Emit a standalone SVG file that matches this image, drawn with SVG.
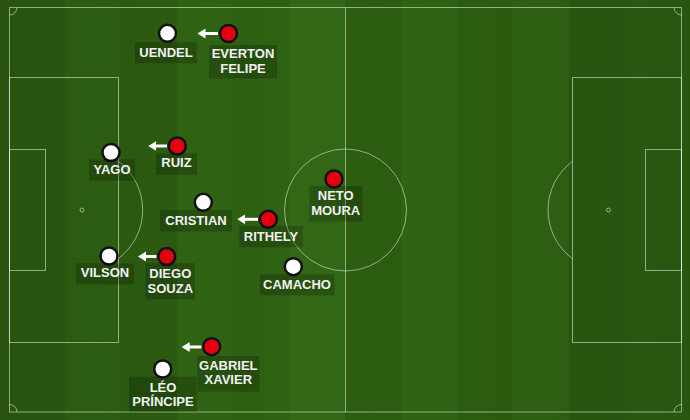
<svg xmlns="http://www.w3.org/2000/svg" width="690" height="420" viewBox="0 0 690 420">
<defs>
<style>
.line{fill:none;stroke:rgba(255,255,255,0.5);stroke-width:1}
.box{fill:rgba(0,0,0,0.2)}
.lbl{font-family:"Liberation Sans",Arial,sans-serif;font-size:13px;font-weight:bold;fill:#f2f2f2;text-anchor:middle}
.pw{fill:#ffffff;stroke:#111;stroke-width:2.5}
.pr{fill:#e4000f;stroke:#111;stroke-width:2.5}
.arr{stroke:#ffffff;stroke-width:3;fill:none}
</style>
<marker id="ah" markerUnits="userSpaceOnUse" markerWidth="10" markerHeight="11" refX="2" refY="5" orient="auto">
<path d="M0,0 L8,5 L0,10 Z" fill="#ffffff"/>
</marker>
<linearGradient id="vig" x1="0" y1="0" x2="1" y2="0">
<stop offset="0" stop-color="#000" stop-opacity="0.10"/>
<stop offset="0.45" stop-color="#000" stop-opacity="0"/>
<stop offset="1" stop-color="#000" stop-opacity="0.10"/>
</linearGradient>
</defs>
<g id="pitch">
<rect x="0" y="0" width="690" height="420" fill="#2e6112"/>
<rect x="0" y="0" width="65" height="420" fill="#2c5d10"/>
<rect x="65" y="0" width="56" height="420" fill="#2f6312"/>
<rect x="121" y="0" width="56" height="420" fill="#2d5f11"/>
<rect x="177" y="0" width="56" height="420" fill="#316614"/>
<rect x="233" y="0" width="56" height="420" fill="#2f6212"/>
<rect x="289" y="0" width="56" height="420" fill="#326815"/>
<rect x="345" y="0" width="56" height="420" fill="#2d5e10"/>
<rect x="401" y="0" width="56" height="420" fill="#316614"/>
<rect x="457" y="0" width="56" height="420" fill="#2e6011"/>
<rect x="513" y="0" width="56" height="420" fill="#306413"/>
<rect x="569" y="0" width="56" height="420" fill="#2c5c10"/>
<rect x="625" y="0" width="65" height="420" fill="#2e6011"/>
<rect x="0" y="0" width="690" height="420" fill="url(#vig)"/>
<rect class="line" x="9.5" y="7.5" width="672" height="404.5"/>
<line class="line" x1="345.5" y1="7.5" x2="345.5" y2="412"/>
<circle class="line" cx="345.5" cy="210" r="61"/>
<rect class="line" x="9.5" y="77.5" width="109" height="265"/>
<rect class="line" x="9.5" y="149.5" width="36" height="121"/>
<rect class="line" x="572.5" y="77.5" width="109" height="265"/>
<rect class="line" x="645.5" y="149.5" width="36" height="121"/>
<circle class="line" cx="82" cy="210" r="2"/>
<circle class="line" cx="608.5" cy="210" r="2"/>
<path class="line" d="M118.5,161.5 A60.7,60.7 0 0 1 118.5,258.5"/>
<path class="line" d="M572.5,161.3 A60.7,60.7 0 0 0 572.5,258.7"/>
<path class="line" d="M9.5,15 A7.5,7.5 0 0 0 17,7.5"/>
<path class="line" d="M674,7.5 A7.5,7.5 0 0 0 681.5,15"/>
<path class="line" d="M9.5,404.5 A7.5,7.5 0 0 1 17,412"/>
<path class="line" d="M674,412 A7.5,7.5 0 0 1 681.5,404.5"/>
</g>
<g id="connectors">
<line class="arr" x1="218" y1="33.5" x2="203.5" y2="33.5" marker-end="url(#ah)"/>
<line class="arr" x1="167" y1="146" x2="154.3" y2="146" marker-end="url(#ah)"/>
<line class="arr" x1="258" y1="219.3" x2="243.3" y2="219.3" marker-end="url(#ah)"/>
<line class="arr" x1="156.5" y1="256.5" x2="144" y2="256.5" marker-end="url(#ah)"/>
<line class="arr" x1="201.5" y1="347" x2="187.7" y2="347" marker-end="url(#ah)"/>
</g>
<g id="uendel">
<circle class="pw" cx="167.5" cy="33.3" r="8.5"/>
<rect class="box" x="135" y="42.3" width="62" height="21"/>
<text class="lbl" x="166" y="57">UENDEL</text>
</g>
<g id="everton-felipe">
<circle class="pr" cx="228.5" cy="33.5" r="8.5"/>
<rect class="box" x="209" y="45" width="68" height="33.5"/>
<text class="lbl" x="243" y="58">EVERTON</text>
<text class="lbl" x="243" y="73">FELIPE</text>
</g>
<g id="yago">
<circle class="pw" cx="111" cy="152.5" r="8.5"/>
<rect class="box" x="89" y="159.3" width="46" height="21.3"/>
<text class="lbl" x="112" y="174">YAGO</text>
</g>
<g id="ruiz">
<circle class="pr" cx="177.3" cy="146" r="8.5"/>
<rect class="box" x="156" y="153.3" width="41" height="21.5"/>
<text class="lbl" x="176.5" y="167">RUIZ</text>
</g>
<g id="cristian">
<circle class="pw" cx="203.3" cy="202.3" r="8.5"/>
<rect class="box" x="160" y="210" width="72" height="21.5"/>
<text class="lbl" x="196" y="225">CRISTIAN</text>
</g>
<g id="rithely">
<circle class="pr" cx="268.3" cy="219.3" r="8.5"/>
<rect class="box" x="239.3" y="226" width="63.5" height="21.3"/>
<text class="lbl" x="271" y="241">RITHELY</text>
</g>
<g id="neto-moura">
<circle class="pr" cx="334" cy="179" r="8.5"/>
<rect class="box" x="309.3" y="186" width="53" height="35.5"/>
<text class="lbl" x="335.7" y="199.5">NETO</text>
<text class="lbl" x="335.7" y="214.8">MOURA</text>
</g>
<g id="vilson">
<circle class="pw" cx="109" cy="256" r="8.5"/>
<rect class="box" x="76" y="263.3" width="58" height="21"/>
<text class="lbl" x="105" y="277">VILSON</text>
</g>
<g id="diego-souza">
<circle class="pr" cx="166.7" cy="256.5" r="8.5"/>
<rect class="box" x="145.5" y="263.3" width="49.5" height="36"/>
<text class="lbl" x="170.3" y="278.3">DIEGO</text>
<text class="lbl" x="170.3" y="293.3">SOUZA</text>
</g>
<g id="camacho">
<circle class="pw" cx="293.3" cy="266.7" r="8.5"/>
<rect class="box" x="260" y="274.3" width="74.3" height="21"/>
<text class="lbl" x="297" y="289">CAMACHO</text>
</g>
<g id="leo-principe">
<circle class="pw" cx="162.7" cy="369" r="8.5"/>
<rect class="box" x="129" y="376.7" width="67.7" height="35"/>
<text class="lbl" x="163" y="391.7">LÉO</text>
<text class="lbl" x="163" y="406">PRÍNCIPE</text>
</g>
<g id="gabriel-xavier">
<circle class="pr" cx="211.7" cy="346.7" r="8.5"/>
<rect class="box" x="197.3" y="356" width="62" height="35.7"/>
<text class="lbl" x="228.3" y="370">GABRIEL</text>
<text class="lbl" x="228.3" y="384.3">XAVIER</text>
</g>
</svg>
